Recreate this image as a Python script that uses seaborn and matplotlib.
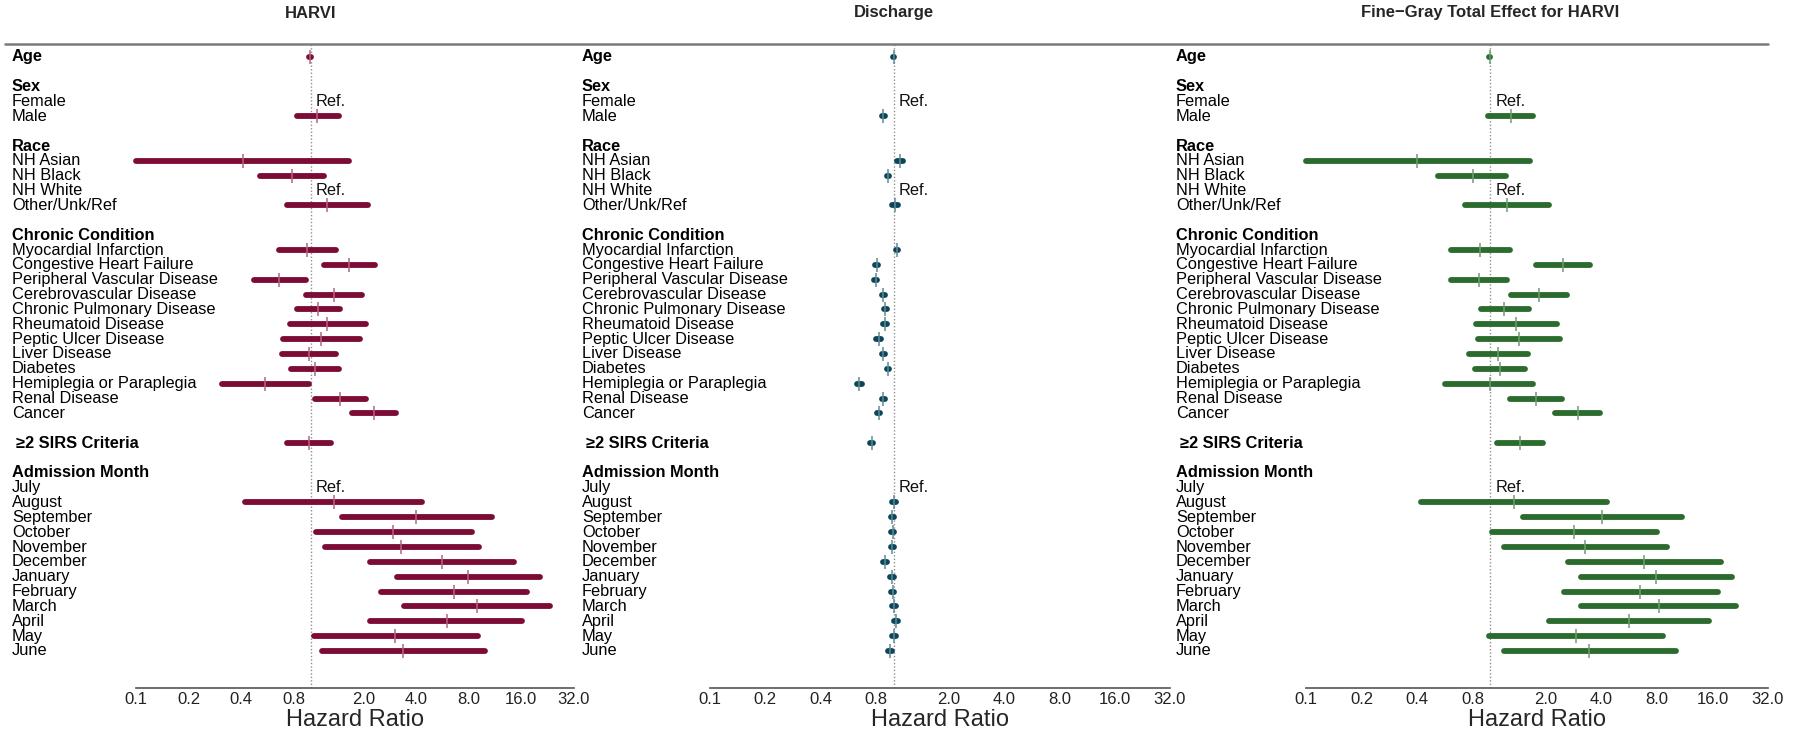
import matplotlib
matplotlib.use("Agg")
import matplotlib.pyplot as plt
import matplotlib.transforms as mtransforms
from matplotlib.lines import Line2D
from matplotlib.ticker import FixedLocator, FixedFormatter, NullLocator
import pandas as pd
import seaborn as sns

sns.set_style("white")
plt.rcParams["font.family"] = ["Liberation Sans", "DejaVu Sans"]

# rows of the forest plot, top to bottom ("" = blank spacer row)
row_labels = [
    "Age", "",
    "Sex", "Female", "Male", "",
    "Race", "NH Asian", "NH Black", "NH White", "Other/Unk/Ref", "",
    "Chronic Condition", "Myocardial Infarction", "Congestive Heart Failure",
    "Peripheral Vascular Disease", "Cerebrovascular Disease",
    "Chronic Pulmonary Disease", "Rheumatoid Disease", "Peptic Ulcer Disease",
    "Liver Disease", "Diabetes", "Hemiplegia or Paraplegia", "Renal Disease",
    "Cancer", "",
    "\u22652 SIRS Criteria", "",
    "Admission Month", "July", "August", "September", "October", "November",
    "December", "January", "February", "March", "April", "May", "June",
]
header_labels = ["Age", "Sex", "Race", "Chronic Condition",
                 "\u22652 SIRS Criteria", "Admission Month"]
ref_labels = ["Female", "NH White", "July"]

# estimated terms (order of the value arrays below)
term_labels = [
    "Age", "Male", "NH Asian", "NH Black", "Other/Unk/Ref",
    "Myocardial Infarction", "Congestive Heart Failure",
    "Peripheral Vascular Disease", "Cerebrovascular Disease",
    "Chronic Pulmonary Disease", "Rheumatoid Disease", "Peptic Ulcer Disease",
    "Liver Disease", "Diabetes", "Hemiplegia or Paraplegia", "Renal Disease",
    "Cancer", "\u22652 SIRS Criteria",
    "August", "September", "October", "November", "December", "January",
    "February", "March", "April", "May", "June",
]

harvi_hr = [0.99, 1.09, 0.41, 0.78, 1.24,
            0.95, 1.66, 0.66, 1.35, 1.10, 1.24, 1.15, 0.98, 1.05, 0.55, 1.46, 2.30,
            0.98,
            1.35, 4.01, 2.97, 3.28, 5.62, 7.91, 6.57, 8.88, 5.97, 3.04, 3.38]
harvi_lo = [0.98, 0.83, 0.10, 0.51, 0.73,
            0.66, 1.19, 0.47, 0.94, 0.83, 0.76, 0.69, 0.68, 0.77, 0.31, 1.05, 1.72,
            0.73,
            0.42, 1.50, 1.07, 1.20, 2.17, 3.10, 2.51, 3.40, 2.19, 1.04, 1.16]
harvi_hi = [1.00, 1.45, 1.66, 1.19, 2.13,
            1.39, 2.34, 0.94, 1.97, 1.47, 2.08, 1.90, 1.40, 1.45, 0.97, 2.08, 3.06,
            1.31,
            4.31, 10.9, 8.32, 9.11, 14.5, 20.4, 17.2, 23.4, 16.2, 9.02, 9.87]

discharge_hr = [1.00, 0.88, 1.08, 0.93, 1.02,
                1.04, 0.81, 0.80, 0.88, 0.90, 0.90, 0.83, 0.88, 0.93, 0.65, 0.88, 0.83,
                0.76,
                1.01, 0.985, 0.99, 0.985, 0.90, 0.975, 0.99, 1.01, 1.03, 1.01, 0.96]
discharge_lo = [0.99, 0.865, 1.04, 0.915, 0.985,
                1.025, 0.795, 0.785, 0.865, 0.885, 0.88, 0.805, 0.865, 0.915, 0.63,
                0.865, 0.815,
                0.745,
                0.985, 0.965, 0.97, 0.965, 0.875, 0.95, 0.97, 0.985, 1.005, 0.985, 0.935]
discharge_hi = [1.01, 0.895, 1.12, 0.945, 1.055,
                1.055, 0.825, 0.815, 0.895, 0.915, 0.92, 0.855, 0.895, 0.945, 0.67,
                0.895, 0.845,
                0.775,
                1.035, 1.005, 1.01, 1.005, 0.925, 1.00, 1.01, 1.035, 1.055, 1.035, 0.985]

finegray_hr = [0.99, 1.29, 0.40, 0.80, 1.23,
               0.88, 2.48, 0.87, 1.83, 1.19, 1.38, 1.43, 1.10, 1.13, 0.99, 1.76, 2.98,
               1.44,
               1.34, 4.05, 2.85, 3.26, 6.83, 7.92, 6.50, 8.16, 5.61, 2.91, 3.44]
finegray_lo = [0.98, 0.97, 0.10, 0.52, 0.73,
               0.61, 1.77, 0.61, 1.29, 0.89, 0.84, 0.86, 0.77, 0.82, 0.57, 1.28, 2.25,
               1.09,
               0.42, 1.50, 1.02, 1.18, 2.65, 3.10, 2.51, 3.10, 2.07, 0.98, 1.18]
finegray_hi = [1.00, 1.71, 1.64, 1.22, 2.09,
               1.28, 3.47, 1.23, 2.61, 1.61, 2.29, 2.39, 1.59, 1.54, 1.71, 2.44, 3.95,
               1.92,
               4.27, 10.9, 8.00, 9.05, 17.7, 20.5, 17.1, 21.5, 15.3, 8.62, 10.1]

titles = ["HARVI", "Discharge", "Fine\u2212Gray Total Effect for HARVI"]
bar_colors = ["#7c0c36", "#0d4659", "#2b6b2e"]
tick_colors = ["#b5667f", "#5f8a99", "#6f9c72"]

tick_values = [0.1, 0.2, 0.4, 0.8, 2.0, 4.0, 8.0, 16.0, 32.0]
tick_text = ["0.1", "0.2", "0.4", "0.8", "2.0", "4.0", "8.0", "16.0", "32.0"]

W, H = 1800, 733
# pixel layout: (label x, axis left, axis right)
panels_px = [(12, 136, 574), (582, 710, 1170), (1176, 1306, 1768)]
top_px, bottom_px = 44, 688
row0_px, row_step = 57, 14.85


def draw_panel(fig, k, hr, lo, hi):
    lab_x, left, right = panels_px[k]
    ax = fig.add_axes([left / W, (H - bottom_px) / H,
                       (right - left) / W, (bottom_px - top_px) / H])
    ax.set_xscale("log")
    ax.set_xlim(0.1, 32)
    ax.set_ylim((bottom_px - row0_px) / row_step, (top_px - row0_px) / row_step)

    df = pd.DataFrame({
        "term": term_labels, "hr": hr, "lo": lo, "hi": hi,
        "row": [row_labels.index(t) for t in term_labels],
    })

    ax.axvline(1, color="#8f8f8f", lw=1, ls=(0, (1, 1.5)), zorder=1)
    ax.hlines(df["row"], df["lo"], df["hi"], color=bar_colors[k], lw=4.2,
              capstyle="round", zorder=2, clip_on=False)
    sns.scatterplot(data=df, x="hr", y="row", marker="|", s=90,
                    color=tick_colors[k], linewidth=1.1, zorder=3, ax=ax,
                    clip_on=False)

    blend = mtransforms.blended_transform_factory(ax.transAxes, ax.transData)
    fx = (lab_x - left) / (right - left)
    for i, lab in enumerate(row_labels):
        if not lab:
            continue
        bold = lab in header_labels
        dx = 4 / (right - left) if lab.startswith("\u2265") else 0
        ax.text(fx + dx, i, lab, transform=blend, ha="left", va="center",
                fontsize=11.8, fontweight="bold" if bold else "normal",
                color="black", clip_on=False)
        if lab in ref_labels:
            ax.text(1.07, i, "Ref.", ha="left", va="center", fontsize=11.8,
                    color="#111111")

    title_tr = mtransforms.blended_transform_factory(ax.transData, fig.transFigure)
    ax.text(1.0, 1 - 13 / H, titles[k], transform=title_tr, ha="center",
            va="center", fontsize=12, fontweight="bold")

    for side in ["top", "left", "right"]:
        ax.spines[side].set_visible(False)
    ax.spines["bottom"].set_color("#555555")
    ax.spines["bottom"].set_linewidth(1.2)
    ax.xaxis.set_major_locator(FixedLocator(tick_values))
    ax.xaxis.set_major_formatter(FixedFormatter(tick_text))
    ax.xaxis.set_minor_locator(NullLocator())
    ax.tick_params(axis="x", direction="in", length=4, width=1,
                   color="#555555", labelsize=12, labelcolor="#222222", pad=3)
    ax.set_yticks([])
    ax.set_ylabel("")
    ax.set_xlabel("Hazard Ratio", fontsize=17, labelpad=1)
    ax.patch.set_visible(False)
    return ax


def main():
    fig = plt.figure(figsize=(W / 100, H / 100), dpi=100)
    series = [(harvi_hr, harvi_lo, harvi_hi),
              (discharge_hr, discharge_lo, discharge_hi),
              (finegray_hr, finegray_lo, finegray_hi)]
    for k, (hr, lo, hi) in enumerate(series):
        draw_panel(fig, k, hr, lo, hi)

    fig.add_artist(Line2D([5 / W, 1768 / W], [1 - top_px / H] * 2,
                          transform=fig.transFigure, color="#7a7a7a", lw=1.8))
    fig.savefig("out.png", dpi=100)
    plt.close(fig)


if __name__ == "__main__":
    main()
